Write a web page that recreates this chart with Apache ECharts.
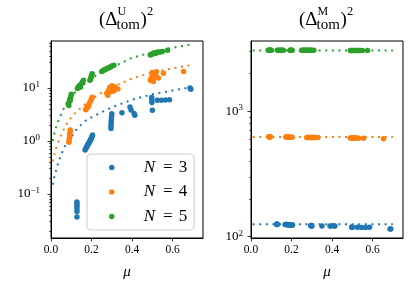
<!DOCTYPE html>
<html><head><meta charset="utf-8">
<script src="https://cdn.jsdelivr.net/npm/echarts@6/dist/echarts.min.js"></script>
<style>html,body{margin:0;padding:0;background:#fff}#c{width:415px;height:293px}</style>
</head><body><div id="c"></div>
<script>
// ---------- data ----------
const names = ['N = 3', 'N = 4', 'N = 5'];
const colors = ['#1f77b4', '#ff7f0e', '#2ca02c'];

// theory curves (left panel)
const curveMu = [0.008, 0.015, 0.025, 0.035, 0.05, 0.07, 0.1, 0.13, 0.17, 0.2, 0.25, 0.3, 0.4, 0.5, 0.6, 0.69];
const curveU3 = [0.15, 0.2, 0.28, 0.38, 0.55, 0.82, 1.18, 1.75, 2.4, 2.8, 3.5, 4.3, 6.0, 7.6, 9.0, 10.3];
const curveU4 = [0.41, 0.54, 0.74, 0.95, 1.3, 1.9, 2.8, 3.7, 5.0, 6.2, 8.2, 10.3, 15.2, 19.5, 23.5, 27.0];
const curveU5 = [1.0, 1.32, 1.81, 2.33, 3.2, 4.65, 6.9, 9.1, 12.3, 15.2, 19.6, 24.5, 37.0, 47.5, 57.5, 66.0];

// theory lines (right panel)
const lineMu = [0.008, 0.70];
const lineM3 = [125.5, 125.5];
const lineM4 = [624, 624];
const lineM5 = [3040, 3040];

// scatter, N = 3
const mu3 = [0.128,0.128,0.128,0.128,0.128,0.128,
  0.168,0.172,0.175,0.178,0.18,0.182,0.185,0.188,0.19,0.192,0.195,0.198,0.2,0.202,0.205,
  0.296,0.296,0.297,0.297,0.298,0.299,0.3,
  0.35,0.39,0.395,0.41,0.414,
  0.497,0.497,0.498,0.5,0.525,0.545,0.565,0.585,0.686,0.69];
const u3 = [0.071,0.065,0.059,0.053,0.047,0.037,
  0.68,0.72,0.76,0.8,0.83,0.86,0.9,0.93,0.97,1.0,1.05,1.1,1.15,1.22,1.3,
  1.72,1.9,2.1,2.35,2.6,2.9,3.25,
  3.4,4.4,3.85,3.3,3.05,
  6.6,6.0,5.3,3.8,5.9,5.9,5.95,6.0,10.0,9.5];
const m3 = [126,126,125.5,125.5,125,125,
  125,125,125,125,124.5,124.5,124.5,124.5,124.5,124,124,124,124,124,124,
  123,123,122.5,122.5,122.5,122,122,
  121.5,122,121.5,121.5,121.5,
  119,119,119,119,119,118.5,118.5,119,115,115];

// scatter, N = 4
const mu4 = [0.088,0.09,0.09,0.092,0.092,0.094,0.095,
  0.172,0.175,0.178,0.18,0.183,0.186,0.19,0.195,0.2,0.203,
  0.275,0.28,0.285,0.29,0.295,0.3,0.305,0.31,0.315,0.33,
  0.49,0.495,0.5,0.5,0.505,0.51,0.515,0.52,0.53,0.555,0.654];
const u4 = [0.95,1.02,1.1,1.2,1.32,1.45,1.62,
  3.9,4.1,4.3,4.5,4.4,4.8,5.2,5.7,6.2,6.7,
  8.0,7.3,9.0,10.2,8.5,11.0,9.5,8.8,10.5,9.6,
  14,15.5,17,19.5,13.2,16,18,20.3,15.5,19,20.5];
const m4 = [626,625,624,625,623,624,625,
  623,622,622,621,622,621,620,621,620,620,
  618,617,618,617,617,618,617,616,617,616,
  612,611,612,610,611,610,611,610,609,608,604];

// scatter, N = 5
const mu5 = [0.085,0.088,0.09,0.093,0.095,0.098,0.1,
  0.13,0.135,0.14,0.145,0.15,0.155,0.16,
  0.192,0.195,0.198,0.2,0.203,
  0.25,0.255,0.26,0.265,0.27,0.275,0.28,0.285,0.29,0.295,0.3,0.31,
  0.49,0.495,0.5,0.505,0.51,0.515,0.52,0.525,0.53,0.54,0.55,0.575];
const u5 = [5.0,4.7,5.5,6.2,5.8,6.8,7.6,
  9.8,10.5,11.2,10.3,12,13,14,
  14,15,16,17.3,18.5,
  20.5,21,21.5,22,22.5,23,23.5,24,24.5,25,26,26.8,
  42,43,44,45,46,44.5,46,47,47.5,48,49,51.5];
const m5 = [3060,3050,3060,3050,3055,3050,3060,
  3060,3050,3055,3050,3060,3050,3055,
  3050,3060,3050,3055,3050,
  3055,3050,3060,3050,3055,3050,3060,3050,3055,3050,3060,3050,
  3040,3045,3035,3040,3045,3035,3040,3035,3040,3045,3035,3040];

// ticks
const xTicks = [0, 0.2, 0.4, 0.6];
const uMajor = [0.1, 1, 10];
const mMajor = [100, 1000];
const uRange = [0.0148, 77];
const mRange = [97.7, 3620];

// ---------- helpers ----------
const L = Math.log10;
function minorTicks(r) {
  const out = [];
  for (let e = -3; e <= 4; e++) for (let k = 2; k <= 9; k++) {
    const v = k * Math.pow(10, e);
    if (v >= r[0] && v <= r[1]) out.push(L(v));
  }
  return out;
}
function pts(xs, ys) { return xs.map((x, i) => [x, L(ys[i])]); }
const SERIF = 'Liberation Serif';
const sup = v => {
  const e = Math.round(v);
  return '{b|10}{s|' + (e < 0 ? '\u2212' + (-e) : e) + '}';
};
const supRich = {
  b: { fontFamily: SERIF, fontSize: 13, color: '#000', lineHeight: 13 },
  s: { fontFamily: SERIF, fontSize: 9, color: '#000', lineHeight: 9, padding: [0, 0, 7, 0] }
};

function xAxisCfg(gi) {
  return {
    gridIndex: gi, type: 'value', min: 0, max: 0.75,
    axisLine: { onZero: false, lineStyle: { color: '#000', width: 1 } },
    axisTick: { customValues: xTicks, length: 3.5, lineStyle: { color: '#000', width: 0.8 } },
    axisLabel: { customValues: xTicks, formatter: v => v.toFixed(1), color: '#000', fontFamily: SERIF, fontSize: 11.5, margin: 6 },
    splitLine: { show: false },
    name: '\u03bc', nameLocation: 'middle', nameGap: 27,
    nameTextStyle: { fontFamily: SERIF, fontStyle: 'italic', fontSize: 15, color: '#000' }
  };
}
function yMajorCfg(gi, range, major, margin) {
  const mv = major.map(L);
  return {
    gridIndex: gi, type: 'value', min: L(range[0]), max: L(range[1]), position: 'left',
    axisLine: { show: true, onZero: false, lineStyle: { color: '#000', width: 1 } },
    axisTick: { customValues: mv, length: 3.5, lineStyle: { color: '#000', width: 0.8 } },
    axisLabel: { customValues: mv, formatter: sup, rich: supRich, margin: margin },
    splitLine: { show: false }
  };
}
function yMinorCfg(gi, range) {
  return {
    gridIndex: gi, type: 'value', min: L(range[0]), max: L(range[1]), position: 'left', offset: 0,
    axisLine: { show: true, onZero: false, lineStyle: { color: 'rgba(0,0,0,0)' } },
    axisTick: { show: true, customValues: minorTicks(range), length: 2, lineStyle: { color: '#000', width: 0.6 } },
    axisLabel: { show: false },
    splitLine: { show: false }
  };
}

const dotted = (c) => ({ color: c, width: 2, type: [2, 4.6], cap: 'butt' });

const series = [];
const curveSets = [curveU3, curveU4, curveU5];
const lineSets = [lineM3, lineM4, lineM5];
const muSets = [mu3, mu4, mu5];
const uSets = [u3, u4, u5];
const mSets = [m3, m4, m5];
for (let i = 0; i < 3; i++) {
  series.push({ name: 'curveU' + i, type: 'line', xAxisIndex: 0, yAxisIndex: 1, data: pts(curveMu, curveSets[i]),
    showSymbol: false, symbol: 'none', lineStyle: dotted(colors[i]), z: 1, silent: true });
  series.push({ name: 'lineM' + i, type: 'line', xAxisIndex: 1, yAxisIndex: 3, data: pts(lineMu, lineSets[i]),
    showSymbol: false, symbol: 'none', lineStyle: dotted(colors[i]), z: 1, silent: true });
}
for (let i = 0; i < 3; i++) {
  series.push({ name: names[i], type: 'scatter', xAxisIndex: 0, yAxisIndex: 0, data: pts(muSets[i], uSets[i]),
    symbolSize: 5.5, itemStyle: { color: colors[i], opacity: 1 }, z: 2 + i });
  series.push({ name: names[i], type: 'scatter', xAxisIndex: 1, yAxisIndex: 2, data: pts(muSets[i], mSets[i]),
    symbolSize: 5.5, itemStyle: { color: colors[i], opacity: 1 }, z: 2 + i });
}

// title pieces
function title(x0, letter) {
  const f = (t, dx, y, size) => ({
    type: 'text', x: x0 + dx, y: y, silent: true,
    style: { text: t, fontFamily: SERIF, fontSize: size, fill: '#000', textAlign: 'left', textVerticalAlign: 'middle' }
  });
  return [
    f('(\u0394', 0, 20, 19),
    f(letter, 18.5, 12, 12),
    f('tom', 17.5, 25.5, 15),
    f(')', 41.5, 20, 19),
    f('2', 48, 12, 12.5)
  ];
}

const chart = echarts.init(document.getElementById('c'), null, { renderer: 'canvas' });
chart.setOption({
  animation: false,
  backgroundColor: '#fff',
  grid: [
    { left: 51, top: 41, width: 152, height: 197, show: true, borderColor: '#000', borderWidth: 1, backgroundColor: 'transparent' },
    { left: 251, top: 41, width: 152, height: 197, show: true, borderColor: '#000', borderWidth: 1, backgroundColor: 'transparent' }
  ],
  xAxis: [xAxisCfg(0), xAxisCfg(1)],
  yAxis: [yMajorCfg(0, uRange, uMajor, 11), yMinorCfg(0, uRange), yMajorCfg(1, mRange, mMajor, 8), yMinorCfg(1, mRange)],
  legend: {
    data: names, orient: 'vertical', left: 87, top: 154,
    icon: 'circle', itemWidth: 16, itemHeight: 5.5, itemGap: 7.5,
    padding: [5, 7, 5, 22],
    backgroundColor: 'rgba(255,255,255,0.8)', borderColor: '#cccccc', borderWidth: 1, borderRadius: 4,
    formatter: n => '{sp| }{i|N}{e|=}{d|' + n.slice(-1) + '}',
    textStyle: {
      rich: {
        sp: { width: 19, fontSize: 17, lineHeight: 17 },
        i: { fontFamily: SERIF, fontStyle: 'italic', fontSize: 17, color: '#000', lineHeight: 17 },
        e: { fontFamily: SERIF, fontSize: 17, color: '#000', lineHeight: 17, padding: [0, 6, 0, 8] },
        d: { fontFamily: SERIF, fontSize: 17, color: '#000', lineHeight: 17 }
      }
    }
  },
  graphic: title(99, 'U').concat(title(299, 'M')),
  series: series
});
</script>
</body></html>
